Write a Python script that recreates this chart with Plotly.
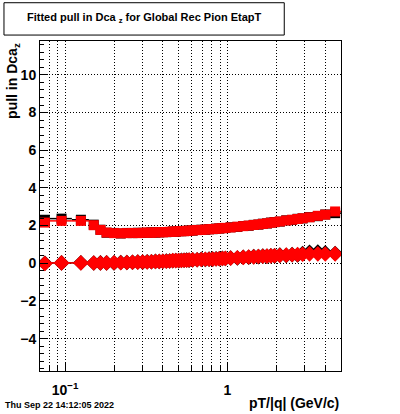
import plotly.graph_objects as go

# ---- data ----
pt_edges = [0.07, 0.08, 0.11, 0.14, 0.16, 0.17,
            0.19, 0.21, 0.23, 0.25, 0.27, 0.29, 0.31, 0.33, 0.35, 0.37, 0.39,
            0.41, 0.43, 0.45, 0.47, 0.49, 0.51, 0.53, 0.55, 0.57, 0.59,
            0.63, 0.67, 0.71, 0.75, 0.79, 0.83, 0.87, 0.91, 0.95, 0.99,
            1.1, 1.2, 1.3, 1.4, 1.5, 1.6, 1.7, 1.8, 1.9, 2.0,
            2.2, 2.4, 2.6, 2.8, 3.0, 3.4, 3.8, 4.2, 5.0]

sigma_red = [2.16, 2.25, 2.25, 2.02, 1.77, 1.63, 1.60, 1.59, 1.60, 1.61,
             1.60, 1.62, 1.63, 1.62, 1.64, 1.65, 1.64, 1.66, 1.67, 1.68,
             1.68, 1.70, 1.71, 1.70, 1.72, 1.73, 1.74, 1.76, 1.77, 1.79,
             1.80, 1.82, 1.83, 1.85, 1.86, 1.88, 1.90, 1.94, 1.97, 2.00,
             2.03, 2.06, 2.09, 2.12, 2.15, 2.18, 2.22, 2.27, 2.31, 2.35,
             2.39, 2.44, 2.52, 2.58, 2.75]
sigma_black = [2.31, 2.37, 2.31, 2.05, 1.78, 1.62, 1.61, 1.58, 1.61, 1.60,
               1.62, 1.61, 1.62, 1.64, 1.63, 1.64, 1.66, 1.65, 1.66, 1.69,
               1.67, 1.71, 1.70, 1.72, 1.71, 1.74, 1.73, 1.77, 1.78, 1.78,
               1.81, 1.81, 1.84, 1.84, 1.87, 1.87, 1.91, 1.93, 1.98, 1.99,
               2.04, 2.05, 2.10, 2.11, 2.16, 2.19, 2.21, 2.28, 2.30, 2.36,
               2.38, 2.45, 2.50, 2.59, 2.66]

mean_red = [-0.01, 0.02, 0.02, 0.01, 0.01, 0.02, 0.03, 0.03, 0.04, 0.05,
            0.06, 0.07, 0.07, 0.08, 0.09, 0.10, 0.11, 0.11, 0.12, 0.14,
            0.14, 0.15, 0.15, 0.16, 0.16, 0.17, 0.18, 0.19, 0.20, 0.21,
            0.21, 0.22, 0.23, 0.24, 0.25, 0.26, 0.27, 0.29, 0.31, 0.33,
            0.34, 0.36, 0.37, 0.38, 0.39, 0.40, 0.42, 0.43, 0.45, 0.46,
            0.48, 0.50, 0.50, 0.49, 0.50]
mean_black = [0.00, 0.02, 0.03, 0.01, 0.02, 0.02, 0.02, 0.04, 0.04, 0.05,
              0.07, 0.06, 0.08, 0.08, 0.10, 0.09, 0.11, 0.12, 0.12, 0.13,
              0.15, 0.14, 0.16, 0.16, 0.17, 0.16, 0.19, 0.19, 0.21, 0.20,
              0.22, 0.22, 0.24, 0.24, 0.26, 0.25, 0.28, 0.28, 0.32, 0.32,
              0.35, 0.35, 0.38, 0.37, 0.40, 0.39, 0.43, 0.42, 0.46, 0.44,
              0.52, 0.58, 0.60, 0.55, 0.52]

x_tick_vals = [0.1, 1]
x_tick_text = ["10<sup>\u22121</sup>", "1"]
x_minor_vals = [0.08, 0.09, 0.2, 0.3, 0.4, 0.5, 0.6, 0.7, 0.8, 0.9, 2, 3, 4]
y_tick_vals = [-4, -2, 0, 2, 4, 6, 8, 10]
y_tick_text = ["\u22124", "\u22122", "0", "2", "4", "6", "8", "10"]

title_text = "Fitted pull in Dca <sub>z</sub> for Global Rec Pion EtapT"
ytitle_text = "pull in Dca<sub>z</sub>"
xtitle_text = "pT/|q| (GeV/c)"
date_text = "Thu Sep 22 14:12:05 2022"

# ---- derived ----
lo = pt_edges[:-1]
hi = pt_edges[1:]
centers = [(a + b) / 2 for a, b in zip(lo, hi)]
err_plus = [b - c for b, c in zip(hi, centers)]
err_minus = [c - a for a, c in zip(lo, centers)]

FONT = "Liberation Sans"

def series(y, color, symbol, size):
    return go.Scatter(
        x=centers, y=y, mode="markers",
        marker=dict(symbol=symbol, size=size, color=color, line=dict(width=0)),
        error_x=dict(type="data", symmetric=False, array=err_plus,
                     arrayminus=err_minus, color=color, thickness=1.5, width=0),
        showlegend=False, hoverinfo="skip")

fig = go.Figure()
fig.add_trace(series(sigma_black, "#000000", "square", 10))
fig.add_trace(series(mean_black, "#000000", "diamond", 12))
fig.add_trace(series(sigma_red, "#ff0000", "square", 10))
fig.add_trace(series(mean_red, "#ff0000", "diamond", 12))

fig.update_layout(
    width=400, height=414,
    margin=dict(l=40, r=59, t=41, b=43),
    paper_bgcolor="white", plot_bgcolor="white",
    font=dict(family=FONT, color="black", size=13, weight="bold"),
    showlegend=False,
)

fig.update_xaxes(
    type="log", range=[-1.1549, 0.699],
    showline=True, linecolor="black", linewidth=1, mirror=True,
    tickmode="array", tickvals=x_tick_vals, ticktext=x_tick_text,
    ticks="inside", ticklen=9, tickcolor="black", tickwidth=1,
    showgrid=True, gridcolor="black", gridwidth=1, griddash="1px,2px",
    zeroline=False,
    tickfont=dict(family=FONT, size=14, weight="bold"),
    ticklabelstandoff=6,
    minor=dict(tickmode="array", tickvals=x_minor_vals, ticks="inside",
               ticklen=5, tickcolor="black", tickwidth=1,
               showgrid=True, gridcolor="black", gridwidth=1, griddash="1px,2px"),
)
fig.update_yaxes(
    range=[-5.72, 11.8],
    showline=True, linecolor="black", linewidth=1, mirror=True,
    tickmode="array", tickvals=y_tick_vals, ticktext=y_tick_text,
    ticks="inside", ticklen=8, tickcolor="black", tickwidth=1,
    showgrid=True, gridcolor="black", gridwidth=1, griddash="1px,2px",
    zeroline=False,
    tickfont=dict(family=FONT, size=14, weight="bold"),
    minor=dict(dtick=0.4, tick0=0, ticks="inside", ticklen=4,
               tickcolor="black", tickwidth=1, showgrid=False),
)

# title box
fig.add_shape(type="rect", xref="paper", yref="paper",
              x0=-0.1197, x1=0.8115, y0=1.018, y1=1.116,
              line=dict(color="black", width=1), fillcolor="white", layer="above")

fig.add_annotation(text=title_text, xref="paper", yref="paper",
                   x=0.346, y=1.07, xanchor="center", yanchor="middle",
                   showarrow=False, font=dict(family=FONT, size=11, weight="bold"))
fig.add_annotation(text=ytitle_text, xref="paper", yref="paper",
                   x=-0.09, y=1.0, xanchor="center", yanchor="top", textangle=-90,
                   showarrow=False, font=dict(family=FONT, size=14, weight="bold"))
fig.add_annotation(text=xtitle_text, xref="paper", yref="paper",
                   x=1.0, y=-0.098, xanchor="right", yanchor="middle",
                   showarrow=False, font=dict(family=FONT, size=14, weight="bold"))
fig.add_annotation(text=date_text, xref="paper", yref="paper",
                   x=-0.123, y=-0.104, xanchor="left", yanchor="middle",
                   showarrow=False, font=dict(family=FONT, size=9, weight="bold"))

fig.write_html("out.html",
               config={"displayModeBar": False},
               post_script="document.body.style.margin='0';document.body.style.overflow='hidden';")
